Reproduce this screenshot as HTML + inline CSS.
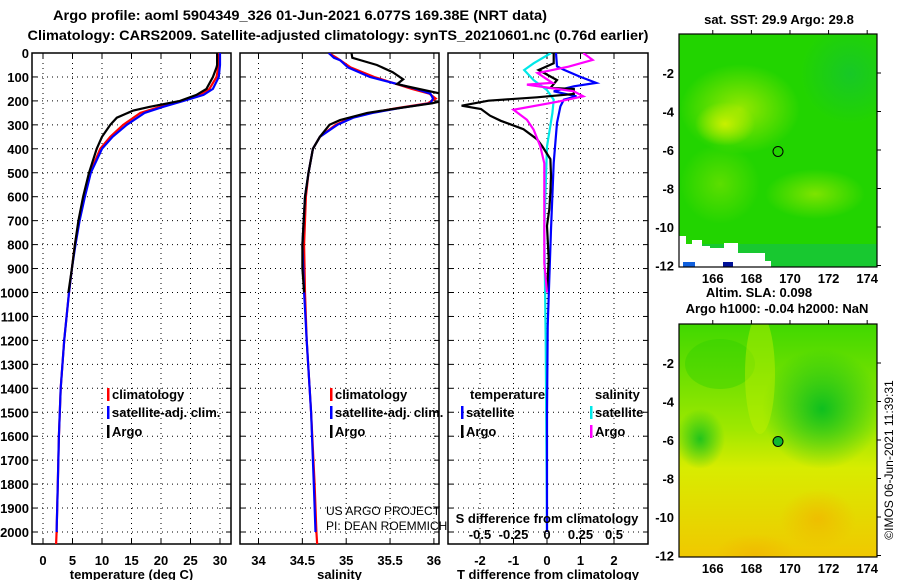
<!DOCTYPE html>
<html><head><meta charset="utf-8">
<style>
html,body{margin:0;padding:0;background:#fff;}
svg{display:block;font-family:"Liberation Sans",sans-serif;}
.b{font-weight:bold;}
</style></head>
<body>
<svg id="c" width="900" height="580" viewBox="0 0 900 580" xmlns="http://www.w3.org/2000/svg">
<defs>
<radialGradient id="y1" cx="50%" cy="50%" r="50%"><stop offset="0" stop-color="#c8f000"/><stop offset="1" stop-color="#c8f000" stop-opacity="0"/></radialGradient>
<radialGradient id="y2" cx="50%" cy="50%" r="50%"><stop offset="0" stop-color="#f0b800"/><stop offset="1" stop-color="#f0b800" stop-opacity="0"/></radialGradient>
<radialGradient id="g2" cx="50%" cy="50%" r="50%"><stop offset="0" stop-color="#00bb22"/><stop offset="1" stop-color="#00bb22" stop-opacity="0"/></radialGradient>
<radialGradient id="g3" cx="50%" cy="50%" r="50%"><stop offset="0" stop-color="#10c040"/><stop offset="1" stop-color="#10c040" stop-opacity="0"/></radialGradient>
<linearGradient id="slaBg" x1="0" y1="0" x2="0" y2="1"><stop offset="0" stop-color="#40d800"/><stop offset="0.45" stop-color="#9ee800"/><stop offset="0.62" stop-color="#d8ec00"/><stop offset="1" stop-color="#f0c800"/></linearGradient>
<clipPath id="clipA"><rect x="32" y="53" width="199" height="491"/></clipPath>
<clipPath id="clipB"><rect x="240" y="53" width="199" height="491"/></clipPath>
<clipPath id="clipC"><rect x="448" y="53" width="200" height="491"/></clipPath>
<clipPath id="clipM1"><rect x="679" y="34" width="198" height="233"/></clipPath>
<clipPath id="clipM2"><rect x="679" y="324" width="198" height="233"/></clipPath>
</defs>
<text class="b" x="300" y="20" font-size="14" text-anchor="middle" textLength="494" lengthAdjust="spacingAndGlyphs">Argo profile: aoml 5904349_326 01-Jun-2021 6.077S 169.38E (NRT data)</text>
<text class="b" x="338" y="40" font-size="14" text-anchor="middle" textLength="621" lengthAdjust="spacingAndGlyphs">Climatology: CARS2009. Satellite-adjusted climatology: synTS_20210601.nc (0.76d earlier)</text>
<g id="plots"></g>
<g id="maps"></g>
<text x="893" y="460" font-size="12" text-anchor="middle" transform="rotate(-90 893 460)">©IMOS 06-Jun-2021 11:39:31</text>
</svg>
<script>
// ---- data ----
const depthTicks = [0,100,200,300,400,500,600,700,800,900,1000,1100,1200,1300,1400,1500,1600,1700,1800,1900,2000];
const tempTicks = [0,5,10,15,20,25,30];
const salTicks = [34,34.5,35,35.5,36];
const salTickLabels = ["34","34.5","35","35.5","36"];
const tdiffTicks = [-2,-1,0,1,2];
const sdiffTicks = [-0.5,-0.25,0,0.25,0.5];

const argoDepth = [0,50,60,100,150,175,200,225,240,270,300,350,400,500,600,700,800,900,1000];
const argoTemp  = [29.5,29.5,29.4,28.8,27.7,26,23.2,18,15.3,12.5,11.4,10,9.1,7.8,6.8,6,5.4,4.9,4.3];
const climDepth = [0,50,100,150,175,200,225,250,300,350,400,500,600,700,800,900,1000,1100,1200,1400,1600,1800,2000,2060];
const climTemp  = [29.8,29.8,29.4,28.2,26.5,23.6,19.8,16.5,13.6,11.4,9.7,8,7,6.1,5.4,4.9,4.4,4.0,3.6,3.0,2.7,2.5,2.3,2.2];
const satTemp   = [30,30,29.8,28.8,27.2,23.8,20.3,17.2,14.2,11.8,10,8.1,7.1,6.2,5.5,4.9,4.4,4.0,3.6,3.0,2.7,2.5,2.3,2.3];

const argoSal   = [35.06,35.07,35.35,35.53,35.65,35.58,35.7,36.08,36.1,35.98,35.6,35.24,34.93,34.81,34.7,34.62,34.57,34.53,34.5,34.5,34.52];
const argoSalDepth = [0,20,50,80,110,130,140,170,200,210,230,250,280,300,350,400,500,600,800,900,1000];
const climSalDepth = [0,20,30,60,100,150,170,190,210,230,250,270,300,350,400,500,600,800,1000,1200,1500,1800,2000,2060];
const climSal   = [34.8,34.89,34.93,35.05,35.32,35.75,35.95,36.02,35.93,35.58,35.28,35.06,34.88,34.7,34.62,34.57,34.54,34.52,34.53,34.55,34.6,34.64,34.66,34.67];
const satSal    = [34.8,34.86,34.93,35.02,35.27,35.8,35.96,35.99,35.96,35.61,35.3,35.08,34.9,34.7,34.62,34.57,34.53,34.5,34.52,34.55,34.6,34.63,34.65,34.65];

const tdArgoDepth = [0,43,71,113,146,150,171,185,199,220,234,262,283,318,360,388,443,513,582,652,722,861,1000];
const tdArgo      = [0.2,0.2,-0.25,0.3,0.1,0.8,0.8,-0.3,-1.75,-2.55,-1.97,-1.7,-1.38,-0.7,-0.3,-0.15,0.1,0.12,0.1,0.07,0.0,0.05,0.0];
const tdSatDepth  = [0,56,70,98,125,139,160,181,195,223,292,459,737,1016,1141,1500,2000];
const tdSat       = [0.27,0.3,0.5,0.97,1.47,0.8,0.2,0.88,0.5,0.4,0.3,0.2,0.12,0.05,0.02,0.0,0.0];
const sdSatDepth  = [0,43,71,113,155,195,251,390,737,1200,2000];
const sdSat       = [0.03,-0.1,-0.17,-0.1,0.0,0.05,0.04,0.0,-0.02,-0.01,0.0];
const sdArgoDepth = [0,29,57,84,125,132,160,181,202,237,279,320,390,460,878,1000];
const sdArgo      = [0.27,0.34,0.16,-0.07,0.04,-0.15,0.2,0.27,0.09,-0.25,-0.15,-0.1,-0.05,-0.02,-0.02,0.0];

// ---- scales ----
const yD = d => 53 + d*0.2395;
const xT = t => 43 + t*5.9;
const xS = s => 258.5 + (s-34)*87.7;
const xTD = v => 547 + v*33.5;
const xSD = v => 547 + v*134;

const NS = "http://www.w3.org/2000/svg";
function mk(tag, attrs, parent){const e=document.createElementNS(NS,tag);for(const k in attrs)e.setAttribute(k,attrs[k]);parent.appendChild(e);return e;}
const plots = document.getElementById('plots');

function stepPath(depths, vals, xf){
  let d='';
  for(let i=0;i<depths.length;i++){d+=(i?'L':'M')+xf(vals[i]).toFixed(1)+','+yD(depths[i]).toFixed(1);}
  return d;
}

const panels = [
 {x:32, clip:'clipA', name:'temperature-panel', ticks:tempTicks, labels:tempTicks.map(String), xf:xT, title:'temperature (deg C)'},
 {x:240, clip:'clipB', name:'salinity-panel', ticks:salTicks, labels:salTickLabels, xf:xS, title:'salinity'},
 {x:448, clip:'clipC', name:'difference-panel', ticks:tdiffTicks, labels:tdiffTicks.map(String), xf:xTD, title:'T difference from climatology'}
];
panels.forEach((p,pi)=>{
  const g = mk('g',{},plots);
  
  
  const W = pi==2?200:199;
  depthTicks.forEach(d=>{
    const l=mk('line',{x1:p.x,x2:p.x+W,y1:yD(d),y2:yD(d),stroke:'#000','stroke-dasharray':'1,4','stroke-width':1},g);
    
    
    mk('line',{x1:p.x,x2:p.x+5,y1:yD(d),y2:yD(d),stroke:'#000'},g);
    mk('line',{x1:p.x+W-5,x2:p.x+W,y1:yD(d),y2:yD(d),stroke:'#000'},g);
  });
  const vt = pi==2 ? sdiffTicks.map(xSD) : p.ticks.map(p.xf);
  vt.forEach(x=>{
    const l=mk('line',{x1:x,x2:x,y1:53,y2:544,stroke:'#000','stroke-dasharray':'1,4'},g);
    
    
  });
  p.ticks.forEach((t,i)=>{
    const x=p.xf(t);
    mk('line',{x1:x,x2:x,y1:53,y2:58,stroke:'#000'},g);
    mk('line',{x1:x,x2:x,y1:539,y2:544,stroke:'#000'},g);
    const tx=mk('text',{x:x,y:565,'font-size':13,'text-anchor':'middle','class':'b'},g);
    tx.textContent=p.labels[i];
    
    
  });
  const fr=mk('rect',{x:p.x,y:53,width:W,height:491,fill:'none',stroke:'#000','stroke-width':1.5},g);
  
  
  const ti=mk('text',{x:p.x+W/2,y:579,'font-size':13,'text-anchor':'middle','class':'b'},g);
  ti.textContent=p.title;
  
  
});
depthTicks.forEach(d=>{
  const t=mk('text',{x:29,y:yD(d)+5,'font-size':13,'text-anchor':'end','class':'b'},plots);
  t.textContent=String(d);
  
  
});

function series(clip, depths, vals, xf, color, name){
  const g=mk('g',{'clip-path':'url(#'+clip+')'},plots);
  const p=mk('path',{d:stepPath(depths,vals,xf),fill:'none',stroke:color,'stroke-width':2.2,'stroke-linejoin':'miter'},g);
  
  
}
series('clipA',climDepth,climTemp,xT,'#ff0000','temp-climatology-line');
series('clipA',climDepth.slice(0,23),satTemp.slice(0,23),xT,'#0000ff','temp-satellite-line');
series('clipA',argoDepth,argoTemp,xT,'#000000','temp-argo-line');
series('clipB',climSalDepth,climSal,xS,'#ff0000','sal-climatology-line');
series('clipB',climSalDepth.slice(0,23),satSal.slice(0,23),xS,'#0000ff','sal-satellite-line');
series('clipB',argoSalDepth,argoSal,xS,'#000000','sal-argo-line');
series('clipC',sdSatDepth,sdSat,xSD,'#00e8e8','sdiff-satellite-line');
series('clipC',tdSatDepth,tdSat,xTD,'#0000ff','tdiff-satellite-line');
series('clipC',tdArgoDepth,tdArgo,xTD,'#000000','tdiff-argo-line');
series('clipC',sdArgoDepth,sdArgo,xSD,'#ff00ff','sdiff-argo-line');

sdiffTicks.forEach(v=>{
  const t=mk('text',{x:xSD(v),y:539,'font-size':13,'text-anchor':'middle','class':'b'},plots);
  t.textContent=String(v);
  
  
});
function txt(x,y,s,name,opts){const t=mk('text',Object.assign({x:x,y:y,'font-size':13},opts||{}),plots);t.textContent=s;return t;}
txt(547,523,'S difference from climatology','sdiff-axis-title',{'text-anchor':'middle','class':'b'});
txt(326,515,'US ARGO PROJECT','credit-project',{'font-size':12});
txt(326,530,'PI: DEAN ROEMMICH','credit-pi',{'font-size':12});

function legItem(x,y,color,label,name){
  const r=mk('rect',{x:x,y:y-11,width:2.5,height:13,fill:color},plots);
  
  
  txt(x+5,y,label,name,{'class':'b','font-size':13});
}
legItem(107,399,'#ff0000','climatology','legend-climatology');
legItem(330,399,'#ff0000','climatology','legend-climatology');
legItem(107,417,'#0000ff','satellite-adj. clim.','legend-satellite-adj');
legItem(330,417,'#0000ff','satellite-adj. clim.','legend-satellite-adj');
legItem(107,436,'#000','Argo','legend-argo');
legItem(330,436,'#000','Argo','legend-argo');
txt(470,399,'temperature','legend-temperature-header',{'class':'b'});
txt(595,399,'salinity','legend-salinity-header',{'class':'b'});
legItem(461,417,'#0000ff','satellite','legend-t-satellite');
legItem(461,436,'#000','Argo','legend-t-argo');
legItem(590,417,'#00e8e8','satellite','legend-s-satellite');
legItem(590,436,'#ff00ff','Argo','legend-s-argo');

// ---- maps ----
const mapLatTicks = [-2,-4,-6,-8,-10,-12];
const mapLonTicks = [166,168,170,172,174];
const maps = document.getElementById('maps');
const mx = lon => 679 + (lon-164.25)*19.3;
function drawMap(top, clip, name, kind){
  const g=mk('g',{},maps);  
  const inner=mk('g',{'clip-path':'url(#'+clip+')'},g);
  if(kind==='sst'){
    mk('rect',{x:679,y:top,width:198,height:233,fill:'#22d400'},inner);
    mk('ellipse',{cx:850,cy:top+40,rx:50,ry:50,fill:'url(#g3)',opacity:0.6},inner);
    mk('ellipse',{cx:740,cy:top+75,rx:60,ry:45,fill:'url(#y1)',opacity:0.7},inner);
    mk('ellipse',{cx:725,cy:top+90,rx:30,ry:22,fill:'url(#y1)'},inner);
    mk('ellipse',{cx:815,cy:top+160,rx:50,ry:25,fill:'url(#y1)',opacity:0.55},inner);
    mk('ellipse',{cx:720,cy:top+150,rx:40,ry:40,fill:'url(#y1)',opacity:0.35},inner);
    mk('rect',{x:679,y:top+210,width:200,height:23,fill:'#18c830'},inner);
    mk('path',{d:`M679 ${top+202}h7v8h6v-4h10v6h8v2h14v-5h14v10h27v8h6v10h-92z`,fill:'#fff'},inner);
    mk('rect',{x:683,y:top+228,width:12,height:5,fill:'#1060dd'},inner);
    mk('rect',{x:723,y:top+228,width:10,height:5,fill:'#001199'},inner);
  } else {
    mk('rect',{x:679,y:top,width:198,height:233,fill:'url(#slaBg)'},inner);
    mk('ellipse',{cx:822,cy:top+85,rx:60,ry:60,fill:'url(#g2)',opacity:0.9},inner);
    mk('ellipse',{cx:700,cy:top+115,rx:25,ry:30,fill:'url(#g2)',opacity:0.8},inner);
    mk('ellipse',{cx:720,cy:top+40,rx:35,ry:25,fill:'#30d000',opacity:0.4},inner);
    mk('ellipse',{cx:760,cy:top+50,rx:15,ry:60,fill:'#c0f000',opacity:0.45},inner);
    mk('ellipse',{cx:818,cy:top+195,rx:38,ry:30,fill:'url(#y2)',opacity:0.8},inner);
    mk('ellipse',{cx:755,cy:top+230,rx:40,ry:20,fill:'url(#y2)',opacity:0.8},inner);
  }
  const fr=mk('rect',{x:679,y:top,width:198,height:233,fill:'none',stroke:'#000','stroke-width':1.2},g);
   
  mapLatTicks.forEach(l=>{
    const y = top + 39 + (-2-l)*19.25;
    mk('line',{x1:877,x2:881,y1:y,y2:y,stroke:'#000'},g);
    const t=mk('text',{x:674,y:y+5,'font-size':13,'text-anchor':'end','class':'b'},g);
    t.textContent=String(l);  
  });
  mapLonTicks.forEach(l=>{
    const x=mx(l);
    mk('line',{x1:x,x2:x,y1:top-4,y2:top,stroke:'#000'},g);
    const t=mk('text',{x:x,y:top+249,'font-size':13,'text-anchor':'middle','class':'b'},g);
    t.textContent=String(l);  
  });
  const c=mk('circle',{cx:mx(169.38),cy:top+39+(6.077-2)*19.25,r:5,fill:kind==='sla'?'#10b830':'none',stroke:'#000','stroke-width':1},g);
   
}
drawMap(34,'clipM1','sst-map','sst');
drawMap(324,'clipM2','sla-map','sla');
function mt(x,y,s,name){const t=mk('text',{x:x,y:y,'font-size':13,'text-anchor':'middle','class':'b'},maps);t.textContent=s;}
mt(779,24,'sat. SST: 29.9 Argo: 29.8','sst-map-title');
mt(759,297,'Altim. SLA: 0.098','sla-map-title');
mt(777,313,'Argo h1000: -0.04 h2000: NaN','sla-map-subtitle');
</script>
</body></html>
